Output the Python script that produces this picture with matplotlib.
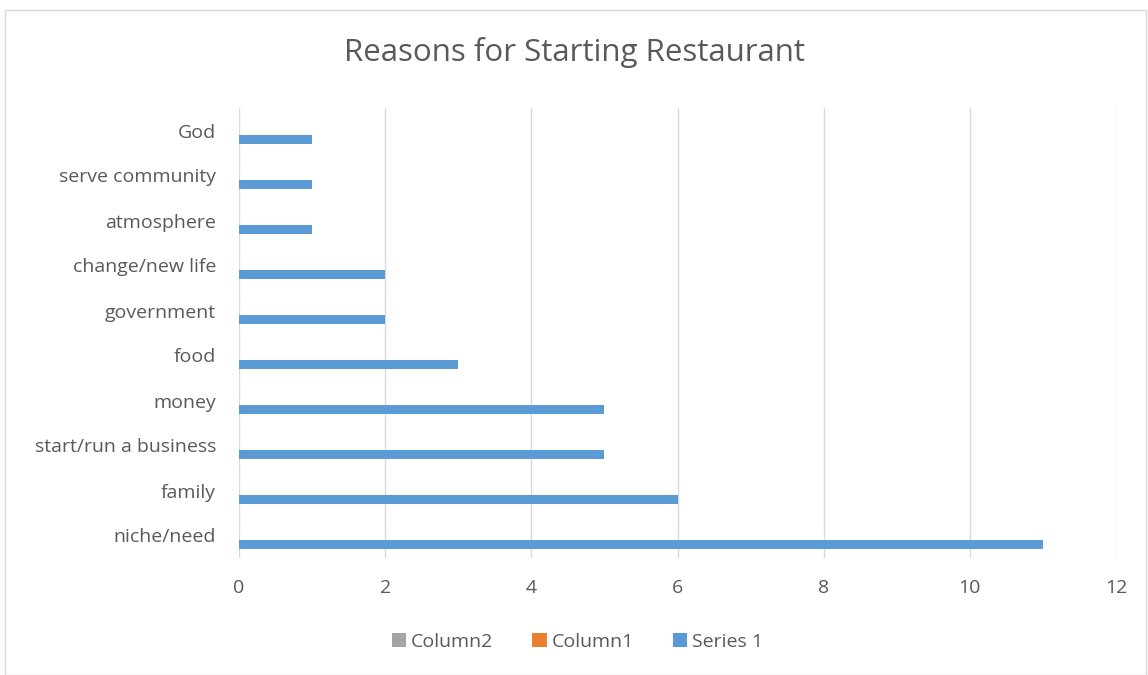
import matplotlib
matplotlib.use("Agg")
import matplotlib.pyplot as plt
from matplotlib.patches import Patch, Rectangle

categories = ["niche/need", "family", "start/run a business", "money", "food",
              "government", "change/new life", "atmosphere", "serve community", "God"]
series1 = [11, 6, 5, 5, 3, 2, 2, 1, 1, 1]
column1 = [0] * len(categories)
column2 = [0] * len(categories)

TEXT = "#595959"
GRID = "#d9d9d9"
COLORS = {"Series 1": "#5b9bd5", "Column1": "#ed7d31", "Column2": "#a5a5a5"}

plt.rcParams["font.family"] = ["Open Sans", "DejaVu Sans"]

fig = plt.figure(figsize=(11.48, 6.75), dpi=100)
ax = fig.add_axes([239 / 1148, 1 - 558 / 675, (1116 - 239) / 1148, (558 - 108) / 675])

# chart border like the Excel chart area
fig.patches.append(Rectangle((5 / 1148, 0), 1141 / 1148, 1 - 10 / 675,
                             transform=fig.transFigure, fill=False,
                             edgecolor=GRID, lw=1.0))

y = list(range(len(categories)))
h = 0.2
off = 0.21
ax.barh([i - off for i in y], series1, height=h, color=COLORS["Series 1"], lw=0, zorder=3)
ax.barh(y, column1, height=h, color=COLORS["Column1"], lw=0, zorder=3)
ax.barh([i + off for i in y], column2, height=h, color=COLORS["Column2"], lw=0, zorder=3)

ax.set_xlim(0, 12)
ax.set_ylim(-0.5, len(categories) - 0.5)
ax.set_xticks(range(0, 13, 2))
ax.set_yticks(y)
ax.set_yticklabels(categories)
ax.tick_params(axis="both", length=0, labelsize=14, colors=TEXT)
ax.tick_params(axis="x", pad=15)
ax.tick_params(axis="y", pad=16.5)
ax.grid(axis="x", color=GRID, lw=1.0, zorder=0)
for s in ax.spines.values():
    s.set_visible(False)

fig.text(0.5, 1 - 53 / 675, "Reasons for Starting Restaurant", ha="center", va="center",
         fontsize=22.5, color=TEXT)

handles = [Patch(facecolor=COLORS[k], label=k) for k in ["Column2", "Column1", "Series 1"]]
fig.legend(handles=handles, loc="center", bbox_to_anchor=(0.503, 1 - 642 / 675), ncol=3,
           frameon=False, fontsize=14, labelcolor=TEXT, handlelength=0.75,
           handleheight=0.75, handletextpad=0.25, columnspacing=2.0)

fig.savefig("out.png", dpi=100)
